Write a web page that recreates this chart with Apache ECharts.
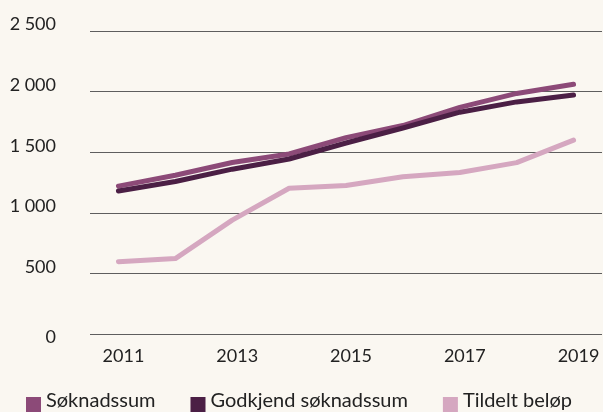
<!DOCTYPE html>
<html><head><meta charset="utf-8">
<script src="https://cdn.jsdelivr.net/npm/echarts@6/dist/echarts.min.js"></script>
<style>html,body{margin:0;padding:0;background:#faf7f1;}#c{width:603px;height:412px;}</style>
</head><body><div id="c"></div>
<script>
const years = ['2011','2012','2013','2014','2015','2016','2017','2018','2019'];
const soknadssum = [1220, 1310, 1415, 1485, 1620, 1720, 1870, 1985, 2060];
const godkjend = [1180, 1258, 1360, 1444, 1576, 1700, 1830, 1915, 1972];
const tildelt = [597, 622, 940, 1203, 1225, 1298, 1332, 1414, 1600];
const yTicks = [0, 500, 1000, 1500, 2000, 2500];

const fam = 'Lato, "Noto Sans", sans-serif';
const chart = echarts.init(document.getElementById('c'));
const mk = (name, data, color) => ({
  name, type: 'line', data, symbol: 'none', smooth: false,
  lineStyle: { color, width: 5, cap: 'round', join: 'round' },
  itemStyle: { color }
});
const fmt = v => String(v).replace(/\B(?=(\d{3})+(?!\d))/g, ' ');
chart.setOption({
  backgroundColor: '#faf7f1',
  animation: false,
  grid: { left: 90, right: 1, top: 31, bottom: 78, containLabel: false },
  legend: {
    left: 26, top: 390, padding: 0, itemWidth: 15, itemHeight: 22, itemGap: 35,
    icon: 'path://M0,0h0.01v0.01h-0.01z M0,7h15v15h-15z',
    textStyle: { fontFamily: fam, fontSize: 20, color: '#222' },
    data: ['Søknadssum', 'Godkjend søknadssum', 'Tildelt beløp']
  },
  xAxis: {
    type: 'category', data: years, boundaryGap: true,
    axisLine: { show: false }, axisTick: { show: false },
    axisLabel: { interval: 1, fontFamily: fam, fontSize: 18, color: '#222', margin: 13, padding: [0, 0, 0, 10] }
  },
  yAxis: {
    type: 'value', min: yTicks[0], max: yTicks[yTicks.length - 1], interval: 500,
    axisLine: { show: false }, axisTick: { show: false },
    splitLine: { lineStyle: { color: '#5e5e5e', width: 1 } },
    axisLabel: {
      fontFamily: fam, fontSize: 18, color: '#222', margin: 34,
      formatter: v => v === 0 ? '{z|0}' : '{a|' + fmt(v) + '}',
      rich: {
        a: { fontFamily: fam, fontSize: 18, color: '#222', padding: [0, 0, 13, 0] },
        z: { fontFamily: fam, fontSize: 18, color: '#222', padding: [6, 0, 0, 0] }
      }
    }
  },
  series: [
    mk('Søknadssum', soknadssum, '#8c4a78'),
    mk('Godkjend søknadssum', godkjend, '#4b1f45'),
    mk('Tildelt beløp', tildelt, '#d5a7c0')
  ]
});
</script></body></html>
